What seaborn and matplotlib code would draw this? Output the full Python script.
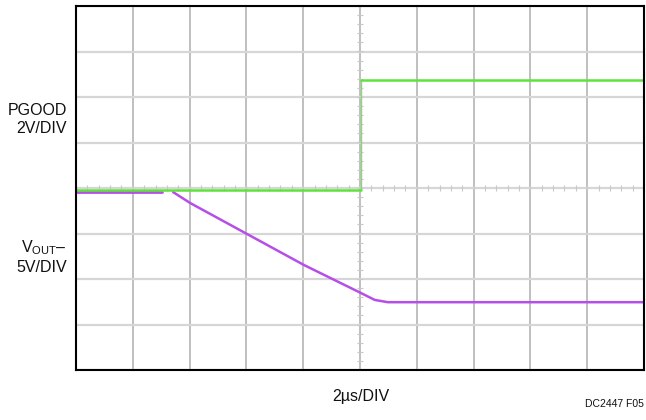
#scope capture: PGOOD and VOUT traces

import matplotlib
matplotlib.use('Agg')
import matplotlib.pyplot as plt
import seaborn as sns
import numpy as np
import pandas as pd

# trace values in scope divisions (x: 0..10 div, y: -4..4 div)
pgood_x = [0.0, 5.02, 5.02, 10.0]
pgood_y = [-0.04, -0.04, 2.37, 2.37]

vout_flat_x = [0.0, 1.51]
vout_flat_y = [-0.09, -0.09]

vout_ramp_x = [1.71, 2.01, 3.01, 4.01, 5.02, 5.26, 5.49, 10.0]
vout_ramp_y = [-0.09, -0.33, -1.01, -1.69, -2.31, -2.46, -2.51, -2.51]

ch_labels = ['PGOOD\n2V/DIV', 'V$_{\\mathrm{OUT}}$–\n5V/DIV']
ch_label_y = [1.5, -1.5]
x_label = '2µs/DIV'
note = 'DC2447 F05'

green = '#5ee33a'
purple = '#b64ee8'


def draw_graticule(ax):
    for gx in range(0, 11):
        ax.axvline(gx, color='#b4b4b4', lw=1.2, zorder=0)
    for gy in range(-4, 5):
        ax.axhline(gy, color='#d6d6d6', lw=1.6, zorder=0)
    # small ticks along the centre lines
    tx = np.arange(0, 10.01, 0.2)
    ax.plot(tx, np.zeros_like(tx), ls='none', marker='|', ms=5, mew=0.8,
            color='#c8c8c8', zorder=0.5)
    ty = np.arange(-4, 4.01, 0.2)
    ax.plot(np.full_like(ty, 5.0), ty, ls='none', marker='_', ms=5, mew=0.8,
            color='#c8c8c8', zorder=0.5)


def main():
    sns.set_theme(style='white')
    plt.rcParams['font.family'] = ['Liberation Sans', 'DejaVu Sans']
    plt.rcParams['mathtext.fontset'] = 'custom'
    plt.rcParams['mathtext.rm'] = 'Liberation Sans'

    fig = plt.figure(figsize=(6.46, 4.2), dpi=100)
    ax = fig.add_axes([76 / 646, 50 / 420, 568 / 646, 364 / 420])

    draw_graticule(ax)

    pg = pd.DataFrame({'x': pgood_x, 'y': pgood_y})
    vf = pd.DataFrame({'x': vout_flat_x, 'y': vout_flat_y})
    vr = pd.DataFrame({'x': vout_ramp_x, 'y': vout_ramp_y})

    sns.lineplot(data=vf, x='x', y='y', sort=False, estimator=None,
                 color=purple, lw=2, ax=ax)
    sns.lineplot(data=vr, x='x', y='y', sort=False, estimator=None,
                 color=purple, lw=1.8, ax=ax)
    # pgood: flat parts thick, the fast edge thin and faint
    sns.lineplot(data=pg.iloc[1:3], x='x', y='y', sort=False, estimator=None,
                 color='#8fd47c', lw=1.0, ax=ax)
    sns.lineplot(data=pg.iloc[0:2], x='x', y='y', sort=False, estimator=None,
                 color=green, lw=1.8, ax=ax)
    sns.lineplot(data=pg.iloc[2:4], x='x', y='y', sort=False, estimator=None,
                 color=green, lw=1.8, ax=ax)

    ax.set_xlim(0, 10)
    ax.set_ylim(-4, 4)
    ax.set_xticks([])
    ax.set_yticks([])
    ax.set_xlabel('')
    ax.set_ylabel('')
    for s in ax.spines.values():
        s.set_color('black')
        s.set_linewidth(1.5)
        s.set_visible(True)

    for lab, ly in zip(ch_labels, ch_label_y):
        ax.text(-0.16, ly, lab, ha='right', va='center', fontsize=11.5,
                color='#111111', linespacing=1.25)

    fig.text(361 / 646, 1 - 397 / 420, x_label, ha='center', va='center',
             fontsize=11.5, color='#111111')
    fig.text(644 / 646, 1 - 404 / 420, note, ha='right', va='center',
             fontsize=7.5, color='#111111')

    fig.savefig('out.png', dpi=100)


main()
